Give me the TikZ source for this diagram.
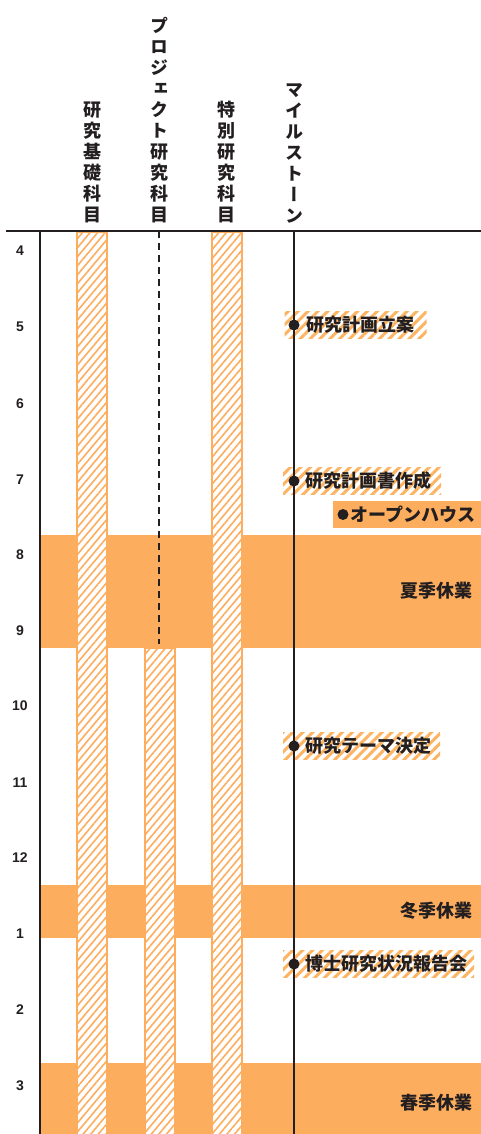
\documentclass[tikz,border=0pt]{standalone}
\usepackage{fontspec}
\setmainfont{Liberation Sans}
\newfontfamily\jp{Noto Sans CJK JP}
\newfontfamily\jpv[RawFeature=+vert]{Noto Sans CJK JP}
\usetikzlibrary{patterns.meta}
\definecolor{band}{HTML}{FDAD5E}
\definecolor{ink}{HTML}{231F20}
\definecolor{hatch}{HTML}{FDB462}
\tikzset{
  bandbox/.style={fill=band, draw=none, rectangle, inner sep=0pt, anchor=north west},
  barbox/.style={rectangle, inner sep=0pt, anchor=north, minimum width=30pt,
    preaction={fill=white},
    pattern={Lines[angle=50,distance=5.8pt,line width=1.6pt]}, pattern color=band,
    draw=band, line width=2pt},
  header/.style={anchor=south, inner sep=0pt, align=center, text=ink,
    font={\jpv\bfseries\fontsize{18}{21}\selectfont}},
  month/.style={text=ink, font={\bfseries\fontsize{14}{16}\selectfont}},
  mslabel/.style={anchor=west, inner sep=0pt, minimum height=27pt, text=ink,
    font={\jp\bfseries\fontsize{18}{20}\selectfont},
    preaction={fill=white},
    pattern={Lines[angle=45,distance=7pt,line width=3pt]}, pattern color=hatch},
  holiday/.style={anchor=east, inner sep=0pt, text=ink,
    font={\jp\bfseries\fontsize{18}{20}\selectfont}},
  dot/.style={circle, fill=ink, inner sep=0pt, minimum size=11pt},
  axis/.style={draw=ink, line width=2.3pt}
}
\begin{document}
\begin{tikzpicture}[x=1pt,y=-1pt]
\useasboundingbox (0,0) rectangle (481,1134);
% holiday bands
\node[bandbox, minimum width=441pt, minimum height=113pt] (summer) at (40,535) {};
\node[bandbox, minimum width=441pt, minimum height=53pt] (winter) at (40,885) {};
\node[bandbox, minimum width=441pt, minimum height=72pt] (spring) at (40,1063) {};
\node[holiday] (summerL) at (473,591) {夏季休業};
\node[holiday] (winterL) at (473,911) {冬季休業};
\node[holiday] (springL) at (473,1103) {春季休業};
% bars
\node[barbox, minimum height=906pt] (bar1) at (92,231) {};
\node[barbox, minimum height=490pt] (bar2) at (159.5,647) {};
\node[barbox, minimum height=906pt] (bar3) at (226.5,231) {};
\coordinate (dtop) at (159,231);
\coordinate (dbot) at (159,644);
\draw[ink, line width=2pt, dash pattern=on 7pt off 5pt] (dtop) -- (dbot);
% axes
\coordinate (hl) at (6,231);
\coordinate (hr) at (481,231);
\coordinate (lt) at (40,231);
\coordinate (lb) at (40,1134);
\coordinate (mt) at (294,231);
\coordinate (mb) at (294,1134);
\draw[axis] (hl) -- (hr);
\draw[axis] (lt) -- (lb);
% headers
\node[header] (h1) at (92,223) {研\\究\\基\\礎\\科\\目};
\node[header] (h2) at (159,223) {プ\\ロ\\ジ\\ェ\\ク\\ト\\研\\究\\科\\目};
\node[header] (h3) at (226.5,223) {特\\別\\研\\究\\科\\目};
\node[header] (h4) at (294,223) {マ\\イ\\ル\\ス\\ト\\ー\\ン};
% months
\foreach \m/\y in {4/251,5/327,6/404,7/480,8/555,9/631,10/706,11/783,12/858,1/934,2/1010,3/1086}
  \node[month] (m\m) at (20,\y) {\m};
% milestone labels
\node[mslabel, text width=142pt] (ms1) at (283,325) {\hspace*{22pt}研究計画立案};
\node[mslabel, text width=158pt] (ms2) at (283,481) {\hspace*{22pt}研究計画書作成};
\node[mslabel, text width=157pt] (ms3) at (283,746) {\hspace*{22pt}研究テーマ決定};
\node[mslabel, text width=191pt] (ms4) at (283,964) {\hspace*{22pt}博士研究状況報告会};
\node[anchor=west, inner sep=0pt, minimum height=27pt, text width=148pt, fill=band, text=ink,
  font={\jp\bfseries\fontsize{18}{20}\selectfont}] (oh) at (333,514.5) {\hspace*{17pt}オープンハウス};
\draw[axis] (mt) -- (mb);
\node[dot] (d1) at (294,325) {};
\node[dot] (d2) at (294,481) {};
\node[dot] (d3) at (294,746) {};
\node[dot] (d4) at (294,964) {};
\node[dot] (d5) at (343,514.5) {};
\end{tikzpicture}
\end{document}
